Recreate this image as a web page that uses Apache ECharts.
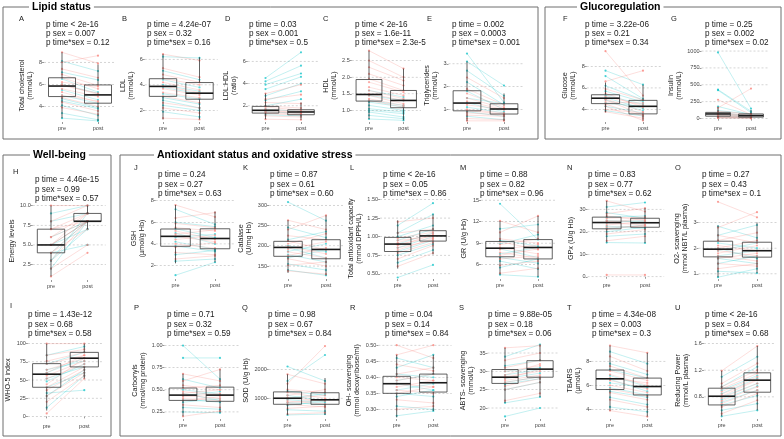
<!DOCTYPE html>
<html><head><meta charset="utf-8">
<script src="https://cdn.jsdelivr.net/npm/echarts@6/dist/echarts.min.js"></script>
<style>html,body{margin:0;padding:0;background:#fff}#c{width:784px;height:439px}</style>
</head><body><div id="c"></div>
<script>
// ---------------- DATA ----------------
const panelIds = ['A','B','D','C','E','F','G','H','I','J','K','L','M','N','O','P','Q','R','S','T','U'];
const timeCats = ['pre','post'];
const sectionTitles = ['Lipid status','Glucoregulation','Well-being','Antioxidant status and oxidative stress'];
const yTitles = [
 'Total cholesterol\n(mmol/L)','LDL\n(mmol/L)','LDL:HDL\n(ratio)','HDL\n(mmol/L)','Triglycerides\n(mmol/L)',
 'Glucose\n(mmol/L)','Insulin\n(mmol/L)','Energy levels','WHO-5 index','GSH\n(µmol/g Hb)','Catalase\n(U/mg Hb)',
 'Total antioxidant capacity\n(mmol DPPH/L)','GR (U/g Hb)','GPx (U/g Hb)','O2- scavenging\n(mmol NBT/L plasma)',
 'Carbonyls\n(nmol/mg protein)','SOD (U/g Hb)','OH- scavenging\n(mmol deoxyribose/ml)','ABTS- scavenging\n(mmol/L)',
 'TBARS\n(µmol/L)','Reducing Power\n(mmol/L plasma)'];
const pTime = ['< 2e-16','= 4.24e-07','= 0.03','< 2e-16','= 0.002','= 3.22e-06','= 0.25','= 4.46e-15','= 1.43e-12',
 '= 0.24','= 0.87','< 2e-16','= 0.88','= 0.83','= 0.27','= 0.71','= 0.98','= 0.04','= 9.88e-05','= 4.34e-08','< 2e-16'];
const pSex = ['0.007','0.32','0.001','1.6e-11','0.0003','0.21','0.002','0.99','0.68','0.27','0.61','0.05','0.82','0.77','0.43',
 '0.32','0.67','0.14','0.18','0.003','0.84'];
const pTimeSex = ['0.12','0.16','0.5','2.3e-5','0.001','0.34','0.02','0.57','0.58','0.63','0.60','0.86','0.96','0.62','0.1',
 '0.59','0.84','0.84','0.06','0.3','0.68'];
const yRange = [[2.6,9.2],[1.1,6.8],[0.55,7.1],[0.65,2.85],[0.45,3.65],[2.85,9.6],[-49,1030],[0.55,10.45],[-5,105],
 [0.75,8.25],[118,318],[0.43,1.52],[4,15.3],[-1,35],[0.8,3.95],[0.17,1.04],[280,2950],[0.27,0.51],[17,38],[3.2,9.6],[0.47,1.62]];
const yTicks = [[4,6,8],[2,4,6],[2,4,6],[1,1.5,2,2.5],[1,2,3],[4,6,8],[0,250,500,750,1000],[2.5,5,7.5,10],[0,25,50,75,100],
 [2,4,6,8],[150,200,250,300],[0.5,0.75,1,1.25,1.5],[6,9,12,15],[0,10,20,30],[1,2,3],[0.25,0.5,0.75,1],[1000,2000],
 [0.3,0.35,0.4,0.45,0.5],[20,25,30,35],[4,6,8],[0.8,1.2,1.6]];
const yDecimals = [0,0,0,1,0,0,0,1,0,0,0,2,0,0,0,2,0,2,0,0,1];
// box stats: [min, q1, median, q3, max]
const boxPre = [[2.95,4.9,5.85,6.6,8.9],[1.3,3.1,3.88,4.48,6.4],[0.8,1.35,1.6,1.95,3.1],[0.74,1.28,1.48,1.93,2.8],
 [0.5,0.94,1.28,1.82,3.1],[3.75,4.55,5.05,5.37,6.5],[10,37,70,93,175],[1,4,5,7,10],[8,40,58,72.5,100],
 [2.2,3.78,4.7,5.38,7.6],[133,174,196,211,263],[0.57,0.8,0.9,0.99,1.22],[4.6,7.1,8.3,9.24,12.1],[15.2,21.3,24.1,26.5,33.7],
 [0.87,1.66,1.96,2.27,2.88],[0.2,0.38,0.44,0.52,0.68],[420,790,1000,1220,1830],[0.275,0.35,0.38,0.403,0.47],
 [21.4,26.7,28.4,30.5,36.4],[3.9,5.65,6.54,7.27,9.3],[0.51,0.68,0.81,0.93,1.19]];
const boxPost = [[2.7,4.3,5.05,5.95,7.8],[1.3,2.88,3.35,4.18,6.15],[0.75,1.2,1.45,1.65,2.3],[0.7,1.08,1.3,1.6,2.26],
 [0.5,0.8,1.02,1.25,1.7],[3.0,3.6,4.3,4.85,6.3],[5,23,45,70,130],[7,8,8,9,10],[52,68,80,88,100],
 [2.3,3.55,4.5,5.4,7.0],[127,168,191,215,275],[0.76,0.94,1.01,1.08,1.3],[4.3,6.8,8.4,9.5,12.8],[15,22,24,26,30.5],
 [1.03,1.65,1.9,2.23,3.0],[0.24,0.37,0.44,0.53,0.73],[420,790,945,1190,1700],[0.295,0.354,0.383,0.41,0.47],
 [23,28.4,30.6,32.9,37.3],[3.4,5.2,5.9,6.6,8.7],[0.6,0.87,1.05,1.16,1.56]];
// individual paired values (red = one sex, cyan = other)
const redPre = [
 [8.9,7.4,6.9,6.6,6.2,6.0,5.9,5.6,5.3,5.0,4.8,4.4,3.9,8.0],
 [6.4,5.3,4.8,4.5,4.2,3.9,3.7,3.4,3.1,2.6,2.2,1.4],
 [3.1,2.6,2.3,2.0,1.9,1.7,1.6,1.5,1.4,1.3,1.1,0.8],
 [2.8,2.5,2.3,2.1,1.95,1.85,1.7,1.6,1.5,1.45,1.35,1.3],
 [2.4,1.9,1.7,1.5,1.35,1.2,1.0,0.95,0.85,0.75,0.6,0.5],
 [9.4,6.6,5.9,5.5,5.2,5.0,4.9,4.7,4.5,4.3,4.0,3.8],
 [280,160,110,90,75,60,50,40,30,20,15,10],
 [10,8,7,7,6,5,5,5,4,4,3,2,1,6],
 [100,84,76,72,64,60,56,52,44,40,36,28,20,4],
 [7.6,6.4,5.9,5.5,5.2,4.9,4.7,4.4,4.0,3.7,3.2,2.6],
 [263,240,225,212,205,198,192,185,176,168,152,138],
 [1.2,1.05,0.98,0.95,0.92,0.9,0.88,0.85,0.82,0.78,0.7,0.6],
 [12.1,10.5,9.6,9.2,8.8,8.4,8.1,7.7,7.3,6.8,5.9,4.8],
 [33.7,28,27,26,25,24.5,24,23,22,21,19,16,0.8],
 [3.8,2.8,2.5,2.3,2.1,2.0,1.9,1.8,1.7,1.6,1.4,1.2],
 [0.68,0.6,0.55,0.52,0.48,0.46,0.44,0.42,0.4,0.38,0.33,0.2],
 [1830,1500,1300,1200,1100,1020,980,900,850,780,650,450],
 [0.5,0.47,0.44,0.41,0.4,0.39,0.38,0.37,0.36,0.35,0.33,0.3],
 [36.4,33,31,30,29,28.5,28,27.5,27,26,25,22],
 [9.3,8.4,7.6,7.2,6.9,6.6,6.4,6.0,5.7,5.4,4.8,3.9],
 [1.19,1.0,0.95,0.92,0.88,0.84,0.81,0.78,0.74,0.7,0.65,0.55]];
const redPost = [
 [7.9,6.6,5.9,5.6,5.8,5.1,5.2,4.9,4.4,4.5,4.0,3.6,3.3,8.6],
 [5.9,4.6,4.2,4.0,3.6,3.4,3.2,3.0,2.6,2.2,1.8,1.3],
 [3.9,3.0,2.2,1.8,1.6,1.5,1.4,1.35,1.3,1.2,1.0,0.75],
 [2.26,2.0,1.9,1.75,1.6,1.55,1.45,1.35,1.3,1.2,1.15,1.1],
 [1.5,1.2,1.1,1.05,1.0,1.0,0.85,0.8,0.75,0.7,0.55,0.5],
 [5.3,7.6,4.9,4.2,4.4,3.8,3.5,4.6,3.4,3.0,3.7,3.2],
 [60,445,70,50,45,40,30,25,20,15,8,5],
 [10,10,9,8,9,8,8,9,8,7,8,5,4,8],
 [100,92,88,84,80,84,76,72,80,68,64,60,56,52],
 [6.5,6.9,5.5,5.2,4.4,5.3,4.2,4.8,3.6,4.1,3.0,2.9],
 [240,275,215,190,230,180,210,170,195,150,160,130],
 [1.25,1.1,1.06,1.0,1.04,0.98,1.02,0.95,0.97,0.92,0.88,0.78],
 [10.5,12.8,9.0,8.1,9.6,7.5,8.8,6.9,8.2,7.2,6.5,5.5],
 [29,30.5,25,26.5,24,25.5,23,24.5,22.5,23,21,18,0.8],
 [3.2,3.4,2.2,2.6,1.9,2.3,1.7,2.1,1.5,1.8,1.3,1.4],
 [0.6,0.73,0.5,0.55,0.44,0.5,0.4,0.46,0.38,0.42,0.3,0.26],
 [1500,2810,1200,1000,1300,900,1100,800,950,700,720,500],
 [0.46,0.5,0.42,0.43,0.39,0.41,0.37,0.39,0.35,0.37,0.32,0.31],
 [37,35,33,31.5,32,30,30.5,29,28.5,28,27,24],
 [8.7,7.2,6.6,6.4,6.0,6.2,5.7,5.4,5.1,4.8,4.2,3.4],
 [1.56,1.3,1.2,1.15,1.1,1.06,1.05,1.0,0.95,0.9,0.85,0.75]];
const cyanPre = [
 [8.1,7.1,6.5,6.0,5.5,5.0,4.7,4.5,4.1,3.4,2.95],
 [6.2,5.1,4.4,4.0,3.8,3.3,3.0,2.8,2.4,1.9],
 [4.5,4.2,3.9,3.5,2.9,2.5,2.0,1.7,1.5,1.2],
 [1.6,1.45,1.3,1.25,1.15,1.05,1.0,0.95,0.85,0.74],
 [3.45,3.1,2.7,2.2,1.8,1.5,1.3,1.1,0.9,0.7],
 [7.6,7.1,6.2,5.7,5.3,5.1,4.9,4.6,4.3,3.9],
 [980,430,420,180,120,95,70,50,30,15],
 [9,8,6,5,5,4,3,3,2,4],
 [84,72,64,60,52,48,40,32,28,12],
 [7.2,6.0,5.4,5.0,4.6,4.2,3.8,3.0,2.4,1.1],
 [308,245,215,200,195,186,178,170,155,140],
 [1.15,1.05,1.0,0.95,0.9,0.85,0.8,0.75,0.65,0.45],
 [14.5,11.0,9.4,8.9,8.2,7.5,7.0,6.5,5.6,4.6],
 [31,28.5,26.5,25,24,22.5,21.5,20,18,15.2],
 [2.85,2.5,2.2,2.0,1.9,1.7,1.6,1.4,1.1,0.87],
 [1.0,0.86,0.62,0.5,0.46,0.43,0.39,0.36,0.3,0.25],
 [2100,1600,1250,1100,1000,950,850,750,600,420],
 [0.46,0.43,0.41,0.39,0.38,0.36,0.35,0.34,0.31,0.28],
 [34,31.5,30,29,28,27,26.5,25,21.4,17.7],
 [8.8,7.8,7.3,6.8,6.5,6.2,5.8,5.5,5.0,4.2],
 [1.1,0.95,0.9,0.85,0.8,0.76,0.72,0.68,0.6,0.51]];
const cyanPost = [
 [7.2,6.4,5.3,5.2,4.6,4.3,3.9,3.8,3.2,2.8,2.7],
 [6.1,4.4,3.8,3.5,3.3,2.9,2.5,2.2,2.0,1.5],
 [6.8,5.6,4.9,4.6,4.0,3.3,2.6,1.5,1.3,1.1],
 [1.4,1.3,1.15,1.1,1.0,0.95,0.9,0.8,0.75,0.7],
 [1.3,2.05,1.6,1.2,1.0,1.25,0.9,0.85,0.7,0.55],
 [6.3,5.0,4.9,4.7,4.5,4.1,3.9,4.3,3.7,3.4],
 [150,110,90,60,70,40,35,25,20,10],
 [10,9,8,8,7,8,7,9,8,5],
 [96,88,76,80,68,72,60,36,64,56],
 [5.8,5.6,4.6,4.0,4.9,3.5,3.3,3.4,2.6,2.3],
 [262,220,235,185,170,205,160,190,140,127],
 [1.45,1.3,1.15,1.1,1.05,1.0,0.95,0.9,0.82,0.62],
 [9.5,11.6,8.6,10.2,7.0,8.4,6.2,5.4,6.8,4.3],
 [33,26,27,24.5,25,21.5,23,22,19,15],
 [2.4,2.9,2.0,1.6,2.2,1.9,1.4,1.7,1.03,1.2],
 [0.62,0.86,0.52,0.45,0.38,0.48,0.36,0.4,0.28,0.24],
 [1600,2500,1100,900,1150,850,780,900,550,450],
 [0.43,0.47,0.4,0.41,0.36,0.38,0.34,0.36,0.3,0.295],
 [37.3,33,31,30.5,29.5,28.5,28,27,23,20],
 [7.8,6.9,6.6,5.9,5.5,5.8,5.2,5.0,4.4,3.8],
 [1.4,1.25,1.12,1.08,1.0,0.96,0.9,0.82,0.7,0.6]];

// ---------------- LAYOUT (pixels) ----------------
// [preCenterX, postCenterX, gridTop, gridHeight]
const panelGeom = [[62,98,49,73],[163,199.5,49,73],[265.5,301,49,73],[369,403.5,49,73],[467,504,49,73],[605.5,643,49,73],[718,751,49,73],
 [51,87.5,202,78],[46.7,84.3,340,80],
 [175.5,215,198,81],[288,326,198,81],[397.7,433,198,81],[500,538,198,81],[606.7,645,198,81],[718,757,198,81],
 [183,220,342,77],[287.5,325,342,77],[396.7,433.3,342,77],[505,540,342,77],[610,647.3,342,77],[721.7,757.3,342,77]];
// [letterX, letterY, pTextX, pTextY]
const textGeom = [[19,19,46,25],[122,19,147,25],[225,19,249,25],[323,19,355,25],[427,19,452,25],[563,19,585,25],[671,19,705,25],
 [13,172,35,180],[10,306,28,315],
 [134,168,158,175],[243,168,270,175],[350,168,383,175],[460,168,480,175],[567,168,588,175],[675,168,702,175],
 [134,308,167,315],[242,308,268,315],[350,308,385,315],[459,308,488,315],[567,308,592,315],[675,308,705,315]];
// [x, y, w, h, titleX]
const frameGeom = [[3,7,535,132,32],[545,7,236,132,580],[3,155,108,281,33],[120,155,661,281,157]];
const EXPAND = 0.5;     // category padding on each side (in category units)
const TICK_FS = 5.5, TITLE_FS = 7.2, TITLE_LH = 8;

const FONT = '"Liberation Sans", Arial, Helvetica, sans-serif';
const RED = '#F8766D', CYAN = '#00BFC4';

function labelWidth(str){
  let w = 0;
  for (const ch of str) w += (ch === '.' ? 0.278 : ch === '-' ? 0.333 : 0.556);
  return w * TICK_FS;
}
function pairRender(color){
  return function(params, api){
    const a = api.coord([1, api.value(0)]);
    const b = api.coord([2, api.value(1)]);
    return {type:'group', children:[
      {type:'line', shape:{x1:a[0],y1:a[1],x2:b[0],y2:b[1]}, style:{stroke:color, lineWidth:0.6, opacity:0.4}},
      {type:'circle', shape:{cx:a[0],cy:a[1],r:1.1}, style:{fill:color, opacity:0.7}},
      {type:'circle', shape:{cx:b[0],cy:b[1],r:1.1}, style:{fill:color, opacity:0.7}}
    ]};
  };
}
function boxRender(params, api){
  const x = api.value(0);
  const p = [1,2,3,4,5].map(k => api.coord([x, api.value(k)]));
  const hw = api.size([0.375, 0])[0];
  const cx = p[0][0];
  const st = {stroke:'#3a3a3a', lineWidth:0.8, fill:null};
  return {type:'group', children:[
    {type:'line', shape:{x1:cx,y1:p[3][1],x2:cx,y2:p[4][1]}, style:st},
    {type:'line', shape:{x1:cx,y1:p[1][1],x2:cx,y2:p[0][1]}, style:st},
    {type:'rect', shape:{x:cx-hw,y:p[3][1],width:2*hw,height:p[1][1]-p[3][1]}, style:{stroke:'#3a3a3a', lineWidth:0.8, fill:'rgba(255,255,255,0.15)'}},
    {type:'line', shape:{x1:cx-hw,y1:p[2][1],x2:cx+hw,y2:p[2][1]}, style:{stroke:'#1a1a1a', lineWidth:1.6}}
  ]};
}
function gridLineRender(params, api){
  const y = api.coord([1, api.value(1)])[1];
  const cs = params.coordSys;
  return {type:'line', shape:{x1:cs.x, y1:y, x2:cs.x+cs.width, y2:y}, style:{stroke:'#b8b8b8', lineWidth:0.6, lineDash:[2,2]}};
}

const grids=[], xAxes=[], yAxes=[], series=[], graphics=[];
panelIds.forEach((id, i) => {
  const [pre, post, top, h] = panelGeom[i];
  const s = post - pre;
  const left = pre - EXPAND*s;
  grids.push({left: left, top: top, width: (1 + 2*EXPAND)*s, height: h});
  xAxes.push({gridIndex:i, type:'value', min:1-EXPAND, max:2+EXPAND, axisLine:{show:false}, splitLine:{show:false},
    axisTick:{show:true, customValues:[1,2], length:2, lineStyle:{color:'#555', width:0.6}},
    axisLabel:{show:true, customValues:[1,2], formatter: v => timeCats[Math.round(v)-1], fontSize:TICK_FS, color:'#444', margin:3, fontFamily:FONT}});
  yAxes.push({gridIndex:i, type:'value', min:yRange[i][0], max:yRange[i][1], axisLine:{show:false}, splitLine:{show:false},
    axisTick:{show:true, customValues:yTicks[i], length:2, lineStyle:{color:'#555', width:0.6}},
    axisLabel:{show:true, customValues:yTicks[i], formatter: v => Number(v).toFixed(yDecimals[i]), fontSize:TICK_FS, color:'#444', margin:2, fontFamily:FONT}});
  series.push({type:'custom', xAxisIndex:i, yAxisIndex:i, z:1, silent:true, renderItem:gridLineRender,
    data: yTicks[i].map(t => [1, t])});
  series.push({type:'custom', xAxisIndex:i, yAxisIndex:i, z:2, silent:true, renderItem:pairRender(CYAN),
    encode:{x:-1, y:[0,1]}, data: cyanPre[i].map((v, k) => [v, cyanPost[i][k]])});
  series.push({type:'custom', xAxisIndex:i, yAxisIndex:i, z:3, silent:true, renderItem:pairRender(RED),
    encode:{x:-1, y:[0,1]}, data: redPre[i].map((v, k) => [v, redPost[i][k]])});
  series.push({type:'custom', xAxisIndex:i, yAxisIndex:i, z:4, silent:true, renderItem:boxRender,
    encode:{x:0, y:[1,2,3,4,5]}, data: [[1].concat(boxPre[i]), [2].concat(boxPost[i])]});
  const [lx, ly, px, py] = textGeom[i];
  graphics.push({type:'text', x:lx, y:ly, style:{text:id, font:'7.5px '+FONT, fill:'#1a1a1a', align:'left', verticalAlign:'middle', textAlign:'left', textVerticalAlign:'middle'}});
  graphics.push({type:'text', x:px, y:py-4.5, style:{text:'p time '+pTime[i]+'\np sex = '+pSex[i]+'\np time*sex = '+pTimeSex[i],
    font:'8.2px '+FONT, lineHeight: top < 100 ? 8.7 : 9.2, fill:'#1a1a1a', align:'left', verticalAlign:'top', textAlign:'left', textVerticalAlign:'top'}});
  // y-axis title, placed just left of the widest tick label
  const maxLab = Math.max(...yTicks[i].map(t => labelWidth(t.toFixed(yDecimals[i]))));
  const nLines = yTitles[i].split('\n').length;
  const tx = left - 2 - 2 - maxLab - 2.5 - nLines*TITLE_LH/2;
  graphics.push({type:'text', x:tx, y:top + h/2, rotation:Math.PI/2, style:{text:yTitles[i], font:TITLE_FS+'px '+FONT, lineHeight:TITLE_LH,
    fill:'#1a1a1a', align:'center', verticalAlign:'middle', textAlign:'center', textVerticalAlign:'middle'}});
});
sectionTitles.forEach((t, j) => {
  const [x, y, w, h, tx] = frameGeom[j];
  graphics.push({type:'rect', shape:{x:x, y:y, width:w, height:h}, style:{fill:null, stroke:'#6e6e6e', lineWidth:1}});
  graphics.push({type:'text', x:tx-3, y:y, style:{text:t, font:'bold 10.5px '+FONT, fill:'#000', backgroundColor:'#fff', padding:[1,3],
    align:'left', verticalAlign:'middle', textAlign:'left', textVerticalAlign:'middle'}});
});

const chart = echarts.init(document.getElementById('c'), null, {renderer:'canvas'});
chart.setOption({
  animation:false, backgroundColor:'#fff', textStyle:{fontFamily:FONT},
  grid:grids, xAxis:xAxes, yAxis:yAxes, series:series, graphic:{elements:graphics}
});
</script></body></html>
